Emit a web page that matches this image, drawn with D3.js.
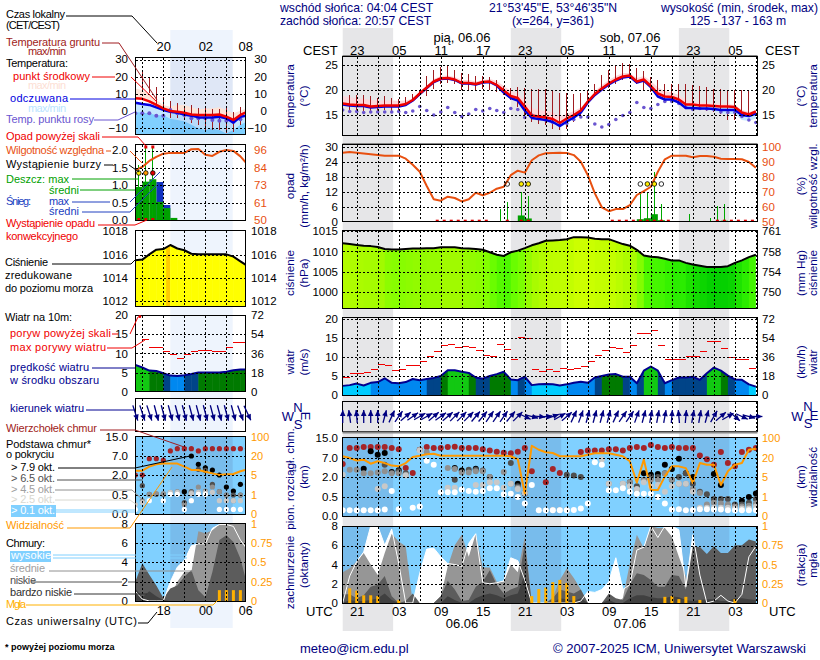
<!DOCTYPE html>
<html>
<head>
<meta charset="utf-8">
<script src="https://cdn.jsdelivr.net/npm/d3@7"></script>
<style>
body { margin: 0; background: #fff; }
text { font-family: "Liberation Sans", Arial, sans-serif; }
</style>
</head>
<body>
<svg id="svg1" width="820" height="660"></svg>
<script>
var _ = null;

// ---- long forecast, one value per hour from 19 UTC
var tempMid = [17.3,17.1,17,17,16.7,16.8,16.9,16.9,16.9,17.2, 18,19.3,20.5,21.7,22.3,22.4,22.1,21.4,21.4,21.2, 21.6,21.7,21,19.9,18.8,18.4,16.7,14.9,14.7,14.5, 14.2,13.4,14.3,15,15.9,17.7,19.2,20.3,21.3,22.1, 22.7,22.9,21.7,22.1,20.8,19.3,18.7,18.6,18.1,17.1, 17.1,16.9,16.9,16.8,16.7,16.7,16.6,15.5,15.1,15.7];
var tempFelt = [17.1,16.9,16.8,16.8,16.5,16.6,16.7,16.7,16.7,17, 17.9,19.2,20.4,21.6,22.2,22.3,22,21.3,21.3,21.1, 21.5,21.6,20.9,19.5,18.4,17.9,15.9,14.4,14.2,14, 13.6,12.8,13.7,14.5,15.5,17.5,19,20.1,21.1,21.9, 22.5,22.7,21.5,21.9,20.6,18.7,18.1,18.1,17.5,16.4, 16.4,16.3,16.3,16.2,16,16,16,15,14.8,15.3];
var tempMax = [18.8,18.6,18.3,18.3,18,17.9,17.9,17.9,17.8,17.9, 18.3,19.6,20.9,22.2,22.8,22.9,22.6,22,22,21.7, 22,22.2,21.8,20.8,19.8,19.3,17.9,16.4,16,15.8, 15.5,14.8,15.2,15.8,16.5,18,19.8,21,22,22.8, 23.4,23.4,22.4,22.8,21.8,20.5,19.8,19.5,19,18, 17.7,17.5,17.4,17.3,17.2,17.2,17,16,15.6,16];
var tempMin = [16.9,16.8,16.7,16.7,16.4,16.4,16.5,16.6,16.6,16.8, 17.7,19,20.3,21.4,22,22.1,21.8,21.1,21.1,20.9, 21.3,21.4,20.6,19.3,18.2,17.8,15.7,14.2,14,13.7, 13.3,12.5,13.3,14.2,15.2,17.3,19,20,21,21.9, 22.5,22.6,21.3,21.8,20.4,18.7,18,18,17.4,16.2, 16.2,16.1,16,15.8,15.3,15.2,15.2,14,13.8,14.3];
var groundMax = [_,19.1,19,19.1,18.9,18.5,18.9,18.5,18.3,18.7, 19.3,20,22.8,24,24.7,24.8,24.1,23.5,23.3,22.9, 22.8,22.7,22,20.8,20.5,20.7,20.5,20.3,20.3,20.3, 19.9,19.5,19.5,19.3,19.5,20,21.3,23,24,24.8, 25.5,25.2,24.5,23.8,22.7,22,21.3,21.2,21.2,21.2, 21,20.9,20.7,20.3,20.3,20.1,20,20,19.9,_];
var groundMin = [_,15.7,16,15.9,15.9,15.9,16,15.9,16,17, 17.7,18.8,18.9,20.3,21.3,21.5,21.3,20.1,20.1,20, 20.3,20.1,19.7,19,18,16.7,14.7,13.7,13.2,13, 12.3,12,12.3,13.7,15,18,19.5,20,20.5,21.3, 22,22.3,21.3,20,19.7,18.7,18.3,18,17.7,16.3, 16,16,15.9,15.7,15.3,14,14,15,14.7,_];
var dewPoint = [16,15.7,15.7,15.5,15.6,15.6,15.6,15.6,15.7,15.5, 15.8,16.7,15.9,15,15.6,16.5,15.5,14.7,15.2,16.1, 15.8,16.3,15.9,15.5,16.3,16.1,14.5,15,14.6,14, 13.5,13,13.3,14.1,14.6,14.6,13.2,12.6,13.1,14.1, 14.9,15.5,17.5,16.5,16.3,17.1,17.7,17.7,17.3,16.5, 16.1,16.3,16.2,16.1,15.6,15.5,15.5,14.7,14,13.5];

var humidity = [96,96.4,96,95.5,95,94.5,94,94,94,92, 88,83.3,73.8,65,64,66.7,65.8,63.5,65,69.3, 67.6,69.3,72,73.3,81,84,82.7,91,94.2,95.6, 95.8,96,95.8,94.4,90,81,68.9,59.6,57,58.4, 58.4,61,67.8,70.4,73.3,83.3,91.6,94,94,94, 93,93.8,93.8,93.3,92,91.8,91.8,91.6,89.8,86];
var rainMaxHours = [22,23,25,26,42,43,44,45,48,49,52,53,54];
var rainMaxValues = [4.9,7.7,11.7,10.4,11.3,12,20,6.9,0.4,3,1.3,6.4,7];
var rainMeanHours = [25,26,42,43,44,45,54];
var rainMeanValues = [2.5,1.3,1,1.4,3,0.6,0.4];
var snowMeanHours = [];
var snowMeanValues = [];
var convectiveHours = [13,14,15,16,17,18,19,20,23,25,26,38,39,40,41,42,43,44,45,46,53,54,55,56,57,58];
var stormHours = [23,25,26,42,43,44,45];
var stormLevels = [0,1,1,0,1,1,0];

var pressure = [1012,1011.8,1011.6,1011.4,1011.3,1011.1,1010.6,1010.5,1010.5,1010.6, 1010.7,1010.7,1010.8,1010.8,1011,1011,1011,1010.8,1010.7,1010.6, 1010.4,1009.8,1009.2,1008.9,1009.8,1010.2,1010.8,1011.5,1012,1012.6, 1012.7,1012.8,1013,1013.5,1013.5,1013.4,1013.1,1013,1013,1012.4, 1011.8,1011.4,1010.4,1009,1008.7,1008.6,1008.2,1007.8,1007.8,1007.2, 1006.8,1006.5,1006.2,1006.2,1006.2,1006.4,1007.2,1007.8,1008.6,1009.2];

var windSpeed = [2.4,2.6,3,2.5,3.2,3.4,4.4,3.2,3.1,3.4, 4.2,3.9,4.2,4.5,5,6.5,6.5,6.1,5.8,4.6, 4.3,5,5.5,6.1,4.1,3.9,4.8,2.6,2.8,2.9, 2.8,2.5,2.8,3.2,3.5,3.2,4.6,5,5.4,5.5, 4.8,4.8,3.1,6.4,7.5,6.4,3.1,3.9,4.6,4.6, 4.8,4,5.7,7.2,6.4,5.1,4.1,4,2.8,2.2];
var windGust = [4.6,5.7,5.7,6,6.8,8.1,7.7,6.5,6.8,7.7, 7.7,8.9,10.2,11.5,13,13.3,12.5,12.8,12.5,11.8, 10.4,10.2,13.3,12,9.4,15.1,14.9,6.8,6.2,6.8, 6.2,7,6.8,7,7.4,8.9,10.4,11.8,12.5,12.3, 11.2,13,16.2,16.2,17,13,9.4,9.4,9.4,10.2, 10.2,11.5,14.1,14.1,12.3,9.9,9.4,9.4,7,_];
var windDir = [0,-8,-5,0,0,0,15,25,35,50, 55,60,60,50,55,50,45,45,45,40, 40,35,35,35,40,45,115,105,95,85, 70,60,50,25,20,15,15,15,15,25, 35,35,20,15,10,10,10,5,-5,5, 10,10,15,30,50,60,130,115,105,90];

var baseTop = [5.4,11,11,11.4,11.4,11.4,11.4,11,10.5,4.4, 3.05,10.3,11.4,11,11,11.4,11.5,11,11,11, 10.5,10,9.5,9.1,8.9,9.5,11,3.5,_,1.6, 4.1,3.05,_,_,9.4,10,10,10,10.5,10.5, 10,11,11.4,11,12.2,11.4,11,11.4,11,11, 11,8,6.7,5.2,9.4,5.7,4.8,9.4,10.3,11];
var base79 = [_,_,_,4.2,9.7,8.3,9,3.3,3.8,_, _,_,_,_,_,_,4.4,3.7,_,4.2, _,_,_,_,_,1.5,0.76,_,_,_, _,_,_,_,_,_,_,_,_,_, _,_,_,3,2.6,2.8,5.2,4.1,6.8,3, 2,_,_,2.8,1.4,_,_,0.4,0.5,0.76];
var base65 = [_,_,_,_,_,_,5.2,_,3.5,3, _,_,_,_,_,_,1.8,_,3.9,3.9, 3.7,2,_,_,5.7,1.3,0.8,_,_,_, _,_,2.6,2.4,2,_,_,_,_,_, _,1.6,1.3,1.8,2,2,3,1.8,2,3, 1.5,0.9,0.7,0.45,0.45,0.45,0.3,0.3,0.35,0.45];
var base45 = [_,3.9,3.9,3,3,3.2,3.5,3,3,2.6, _,10.3,9.3,_,_,4.4,4.1,3.2,3.2,3.5, 3.5,2,_,3.3,1.5,1.2,0.8,_,_,_, _,_,_,_,_,_,_,_,1.5,_, 1.5,1.6,1,1.8,1.8,1.8,2.9,1.8,1.5,1.5, 1.1,0.8,0.3,0.35,0.33,0.3,0.25,0.25,0.27,0.33];
var base25 = [2.6,_,_,_,_,1.1,1.3,_,_,2.4, _,10,_,_,_,1.2,1.2,_,_,1.4, 1.4,1.6,1.6,1.2,1.5,1.1,0.8,_,_,_, 0.16,0.16,0.16,_,_,_,_,6.6,1.5,_, 1.5,1.3,1.1,1.6,1.3,1.4,0.9,1.3,1.5,1.5, 0.9,0.22,0.22,0.22,0.22,0.22,0.2,0.2,0.2,0.25];
var base01 = [0.15,0.15,0.15,0.15,0.15,0.15,0.17,0.95,0.18,_, 0.22,0.25,6.3,5.2,0.85,0.85,0.85,1.07,0.95,0.9, 0.95,1.15,1.15,0.7,0.75,0.5,0.33,1.4,0.15,0.15, 0.15,0.15,0.15,0.16,0.2,0.33,5.9,5.2,1,1, 1.15,0.9,0.75,0.75,0.75,0.5,0.33,0.17,0.18,0.15, 0.16,0.18,0.18,0.17,0.17,0.15,0.15,0.15,0.15,0.15];
var visibility = [26.7,20,18,18.7,15.5,17.4,16,14,13.4,16, 24,29,34.7,37,29,29,29,29,29,29, 29,29,29,29,27,19,1.7,69,53,43, 40,27,27,27,27,33,39,39,39,33, 27,17.4,3.9,18.7,2.4,2.4,5.5,13.4,13.4,12, 3.8,16,14.7,14.7,3.4,9.5,14.7,16,53,57];

var cloudHigh = [0,2.8,4.3,5.3,8,8,6,7.7,4.1,0, 0,3.1,5.6,5.7,4.8,4.1,4,3.8,6.2,7.2, 2.1,2,2.1,2.3,4.7,4.4,2.4,0,0,0, 0,0,0,0,0.2,1.2,1.1,1.4,2.2,4.7, 1.4,1.9,5.5,5.8,8,6.8,8,8,7.6,1.7, 7.1,2.9,0,0.2,0.8,0.2,0,0.9,4.8,5.9];
var cloudMid = [3.2,3.6,4.3,5.2,4,2.9,5.2,7.2,6.4,5.9, 0,0,0,0,0.7,3.8,6,7.1,4.8,7.2, 3.7,3.7,2.2,2.2,4,3.2,6.9,0,0,0, 0.6,2.4,3.6,2.6,1.4,0,0,0,0,0, 0.5,4.1,7.1,5.7,8,7.8,7.8,6.9,4.8,2.8, 0,5.9,5,5.9,5,5,5.5,5.5,6,6];
var cloudLow = [0.9,0.9,0.5,0.8,1.7,1.9,2.8,0.7,0,0.2, 1,0,0,0,0.7,2.3,1.4,0.2,0.3,1.7, 2.2,3.4,1.9,1,1.4,1.7,6.2,0,0,0, 0.5,1.4,1.2,1,1.4,0,0,0,1,0.5, 0.3,1.9,3.1,2.9,2.4,1.7,1.7,2.9,2.8,1.4, 5.9,5.8,5.1,5.9,5.2,5.2,6,6,6.6,6.4];
var cloudVeryLow = [0,0.3,0.2,0.2,0.3,0.5,1,0.3,0,0, 0,0,0,0,0,0.7,0.3,0,0,0.5, 0.8,1,0.8,0.5,0.8,1,3,0,0,0, 0,0.5,0.4,0.2,0.5,0,0,0,0.3,0, 0,0.5,0.8,0.8,0.6,0.5,0.5,0.7,0.6,0.3, 0.2,0.3,0.4,0.4,0.2,0.2,0.5,0.5,0.4,0.3];
var fogHours = [1,2,3,4,5,8,27,28,29,30,31,32,33,46,47,48,49,51,56];
var fogValues = [0.19,0.16,0.1,0.1,0.09,0.04,0.09,0.18,0.2,0.27,0.3,0.26,0.09,0.08,0.09,0.05,0.08,0.04,0.05];

// ---- short forecast on the left, from 14 UTC
var miniMid = [7.3,7,5.5,3.5,1.5,0,-0.4,-1,-2,-2.3,-2.3,-2.3,-2,-3.3,-5.2,-2.3,-0.4];
var miniFelt = [4.8,4,3.5,2.1,0.6,-0.4,-1,-2,-2.7,-3.7,-3.7,-3.8,-3.3,-4.2,-6.7,-3.3,-2.7];
var miniMax = [13,12,10,6.3,3.5,2.5,3.5,3.5,2.1,1,1.5,1.5,2.1,0.6,-1.3,0.2,1.5];
var miniMin = [-0.4,-1,-1.3,-2.5,-2.5,-4.5,-5.2,-6,-8,-10,-11,-10,-11,-13,-11,-8,-6];
var miniGroundMax = [_,23.7,19.2,14,8,5.8,4.5,2.5,3.5,1.5,2.1,1,1,1.5,-0.4,2.5,_];
var miniGroundMin = [_,12.1,10.2,3.5,1.5,-4.2,-4.2,-5.2,-7.1,-8,-11,-11,-11,-12.9,-12,-8,_];
var miniDew = [-1.3,-1.3,-1.3,-2.7,-2.7,0.6,-1.3,-2.3,-4.2,-4.2,-4.2,-5.2,-5.6,-5.6,-6.2,-4.8,-4.8];

var miniHumidity = [82.9,85,89,91.7,93.8,94.3,94.3,94.3,96.7,96.9,93,92.3,95,96.2,95.6,92,86.8];
var miniRainMaxHours = [0,1,2];
var miniRainMaxValues = [1.57,2.1,2.1];
var miniRainMeanHours = [0,1,2,3,4,5];
var miniRainMeanValues = [0.95,1.1,1.17,0.52,0.34,0.06];
var miniSnowMeanHours = [3,4];
var miniSnowMeanValues = [1.09,0.43];
var miniConvectiveHours = [0,1,2];
var miniStormHours = [0,1,2];
var miniStormColors = ["#ffee00","#ff9900","#e00000"];
var miniOverHours = [1,2];

var miniPressure = [1015.5,1015.55,1016,1016.4,1016.45,1016.8,1016.5,1016.35,1016.05,1016,1016,1016,1016,1016,1015.8,1015.4,1015];
var miniPressurePeak = [4.4,4.95];

var miniWind = [7,6.3,5.5,5.4,4.8,4.2,4.1,4.3,4.6,5,5,5,5,5.2,5.6,5.8,5.8];
var miniGust = [_,13.5,11.6,11.5,10.4,9.6,8.7,9.8,10.6,10.8,10.8,10.4,10.4,11.6,12.7,12.9,_];
var miniDir = [162,162,162,165,165,165,165,165,165,165,165,165,165,165,165,160,155];

var miniBaseTop = [2,2,6.3,6.3,5.9,9.1,10,10,10,9.1,10,10,10,10,10,10,10];
var miniBase79 = [_,_,_,_,_,_,_,0.75,7,4.8,3.9,3.3,2,1.1,0.8,1.3,1.9];
var miniBase65 = [_,1.2,0.55,0.55,0.55,_,_,0.3,0.75,3.5,3.2,1.3,0.75,0.5,0.5,0.5,_];
var miniBase45 = [_,0.35,0.55,0.6,0.6,0.7,0.75,0.25,0.7,1.1,0.8,1.1,0.75,0.5,0.35,0.5,1.3];
var miniBase25 = [0.25,0.3,_,_,_,0.7,0.7,_,0.6,0.7,0.7,0.7,0.35,0.35,0.35,0.35,_];
var miniBase01 = [0.12,_,0.35,_,0.35,0.55,0.55,0.12,0.35,0.55,0.55,_,0.12,0.12,0.12,0.12,_];
var miniVisibility = [8.4,8.4,11.6,13.4,14,14,14,11.6,9,9,7.6,6.3,5,5.5,5.8,8,9.5];

var miniCloudHigh = [1,0.2,0,0,0,2,3.5,4.2,5.7,5.9,5.9,7.5,7.9,7.9,7.7,6.3,5.3];
var miniCloudMid = [0,0,0,0,0,0.4,2,3,3,7.2,7,7.3,7.9,8,8,8,8];
var miniCloudLow = [2,3.9,2.7,1.6,0.3,1.3,1.6,2.5,3.2,1.1,0.4,3,6.3,6.8,6.1,4.4,1.6];
var miniCloudVeryLow = [1.3,0.4,1,0.5,0.1,0,0,0,0,0,0,0,0,0,0,0,0];
var miniFogHours = [12,13,14,15];
var miniFogValues = [0.14,0.14,0.14,0.14];

// ---- tick labels
var hoursCest = ["23","05","11","17","23","05","11","17","23","05"];
var hoursUtc = ["21","03","09","15","21","03","09","15","21","03"];
var nightBands = [[0,7.2],[24,31.2],[48,55.2]];
var miniDayBand = [5,13.9];

var navy = "#000080", orange = "#e85010", vis = "#ff9900";
var svg = d3.select("#svg1");

var x = d3.scaleLinear().domain([0,59.2]).range([342.7,757.3]);
var mx = d3.scaleLinear().domain([0,15.7]).range([135.3,245.3]);
var mainHours = d3.range(2,60,3), miniHours = d3.range(1,16,3);

// ---- panel positions
var mainP = {x0:342.5,x1:757.5};
var miniP = {x0:135.5,x1:245.5};

// background bands first
nightBands.forEach(function(b){
    svg.append("rect").attr("x",x(b[0])).attr("width",x(b[1])-x(b[0])).attr("y",28).attr("height",603).attr("fill","#e6e6e8");
});
svg.append("rect").attr("x",mx(miniDayBand[0])).attr("width",mx(miniDayBand[1])-mx(miniDayBand[0])).attr("y",30).attr("height",598).attr("fill","#eef4fd");

function makePanel(p,top,bottom,name){
    var id = "clip-"+name;
    svg.append("clipPath").attr("id",id).append("rect").attr("x",p.x0).attr("y",top).attr("width",p.x1-p.x0).attr("height",bottom-top);
    var g = svg.append("g").attr("clip-path","url(#"+id+")");
    return {g:g,p:p,top:top,bottom:bottom,name:name};
}

function finishPanel(pn,xs,hours,ys){
    var g = svg.append("g").attr("shape-rendering","crispEdges");
    hours.forEach(function(h){
        g.append("line").attr("x1",Math.round(xs(h))+.5).attr("x2",Math.round(xs(h))+.5).attr("y1",pn.top).attr("y2",pn.bottom)
            .attr("stroke","#000").attr("stroke-dasharray","2,2");
    });
    ys.forEach(function(v){
        g.append("line").attr("x1",pn.p.x0).attr("x2",pn.p.x1).attr("y1",Math.round(v)+.5).attr("y2",Math.round(v)+.5)
            .attr("stroke","#000").attr("stroke-dasharray","2,2");
    });
    g.append("rect").attr("x",pn.p.x0).attr("y",pn.top).attr("width",pn.p.x1-pn.p.x0).attr("height",pn.bottom-pn.top)
        .attr("fill","none").attr("stroke","#000");
}

function yAxis(gen,xpos,scale,vals,fmt,color,size){
    var a = svg.append("g").attr("transform","translate("+xpos+",0)")
        .call(gen(scale).tickValues(vals).tickFormat(fmt).tickSize(0).tickPadding(0));
    a.select(".domain").remove();
    a.selectAll("text").style("font-family","Liberation Sans").style("font-size",(size||11.5)+"px").attr("fill",color||"#000");
    return a;
}
function hourAxis(xs,ypos,vals,labels,size){
    var a = svg.append("g").attr("transform","translate(0,"+ypos+")")
        .call(d3.axisBottom(xs).tickValues(vals).tickFormat(function(d,i){return labels[i];}).tickSize(0).tickPadding(0));
    a.select(".domain").remove();
    a.selectAll("text").style("font-family","Liberation Sans").style("font-size",(size||13)+"px").attr("fill","#000").attr("dy",0).attr("y",0);
}

function areaBetween(xs,yScale,lo,hi,color,g){
    var idx = d3.range(lo.length);
    g.append("path").datum(idx).attr("fill",color)
        .attr("d",d3.area().x(function(i){return xs(i);}).y0(function(i){return yScale(lo[i]);}).y1(function(i){return yScale(hi[i]);}));
}
function drawLine(g,xs,yScale,vals,color,w){
    g.append("path").datum(vals).attr("fill","none").attr("stroke",color).attr("stroke-width",w)
        .attr("stroke-linejoin","round")
        .attr("d",d3.line().defined(function(d){return d!==null;}).x(function(d,i){return xs(i);}).y(function(d){return yScale(d);}));
}

function drawTemperature(pn,xs,y,d){
    var g = pn.g;
    if (d.sky) {
        // short panel fills down to the bottom
        var low = d.mid.map(function(){return -20;});
        areaBetween(xs,y,d.felt,low,"#c4e6ff",g);
        areaBetween(xs,y,d.sky,low,"#80d0ff",g);
        g.append("rect").attr("x",xs(d.band[0])).attr("width",xs(d.band[1])-xs(d.band[0]))
            .attr("y",pn.top).attr("height",pn.bottom-pn.top).attr("fill","#2040a0").attr("fill-opacity",0.07);
    } else {
        areaBetween(xs,y,d.mid,d.min,"#c4e6ff",g);
    }
    areaBetween(xs,y,d.mid,d.max,d.pink,g);
    d.groundMax.forEach(function(v,i){
        if (v===null) return;
        g.append("line").attr("x1",xs(i)).attr("x2",xs(i)).attr("y1",y(v)).attr("y2",y(d.groundMin[i])).attr("stroke","#a01c20").attr("stroke-width",1).attr("shape-rendering","crispEdges");
    });
    g.selectAll(null).data(d.dew).enter().append("circle").attr("cx",function(v,i){return xs(i);}).attr("cy",function(v){return y(v);})
        .attr("r",d.dewR).attr("fill","#6a55d0");
    drawLine(g,xs,y,d.felt,"#0000e0",2.5);
    drawLine(g,xs,y,d.mid,"#f00000",2.5);
}

function drawRain(pn,xs,y,yHum,d){
    var g = pn.g;
    d.snowHours.forEach(function(h,i){
        g.append("rect").attr("x",xs(h)).attr("width",xs(h+1)-xs(h)).attr("y",y(d.snow[i])).attr("height",y(0)-y(d.snow[i])).attr("fill","#1030c0");
    });
    d.meanHours.forEach(function(h,i){
        g.append("rect").attr("x",xs(h)).attr("width",xs(h+1)-xs(h)).attr("y",y(d.mean[i])).attr("height",y(0)-y(d.mean[i])).attr("fill","#00a000");
    });
    d.maxHours.forEach(function(h,i){
        g.append("line").attr("x1",xs(h+.5)).attr("x2",xs(h+.5)).attr("y1",y(d.max[i])).attr("y2",y(0)).attr("stroke","#00a800").attr("stroke-width",1).attr("shape-rendering","crispEdges");
    });
    d.conv.forEach(function(h){
        g.append("rect").attr("x",xs(h+.5)-1.5).attr("width",3).attr("y",y(0)-2).attr("height",2).attr("fill","#e00000");
    });
    drawLine(g,xs,yHum,d.hum,orange,2);
}

function drawPressure(pn,xs,y,vals,color,floor,peak){
    var clipId = "area-"+pn.name;
    var area = d3.area().x(function(d,i){return xs(i);}).y0(y(floor)).y1(function(d){return y(d);});
    svg.append("clipPath").attr("id",clipId).append("path").attr("d",area(vals));
    var g = pn.g.append("g").attr("clip-path","url(#"+clipId+")");
    vals.forEach(function(v,i){
        g.append("rect").attr("x",xs(i)).attr("width",xs(i+1)-xs(i)+.5).attr("y",pn.top).attr("height",pn.bottom-pn.top).attr("fill",color(v));
    });
    if (peak) {
        g.append("rect").attr("x",xs(peak[0])).attr("width",xs(peak[1])-xs(peak[0])).attr("y",pn.top).attr("height",pn.bottom-pn.top).attr("fill","#ffcc00");
    }
    drawLine(pn.g,xs,y,vals,"#000",2);
}

var windColor = d3.scaleThreshold().domain([3,4.2,5,5.9]).range(["#00ccff","#0088f0","#004488","#007a00","#12c812"]);
function drawWind(pn,xs,y,speed,gust){
    var clipId = "area-"+pn.name;
    var area = d3.area().x(function(d,i){return xs(i);}).y0(y(0)).y1(function(d){return y(d);});
    svg.append("clipPath").attr("id",clipId).append("path").attr("d",area(speed));
    var g = pn.g.append("g").attr("clip-path","url(#"+clipId+")");
    speed.forEach(function(v,i){
        var next = i+1<speed.length ? speed[i+1] : v;
        g.append("rect").attr("x",xs(i)).attr("width",xs(i+1)-xs(i)+.5).attr("y",pn.top).attr("height",pn.bottom-pn.top).attr("fill",windColor((v+next)/2));
    });
    drawLine(pn.g,xs,y,speed,"#000090",2);
    gust.forEach(function(v,i){
        if (v===null) return;
        pn.g.append("line").attr("x1",xs(i)).attr("x2",xs(i+1)).attr("y1",y(v)).attr("y2",y(v)).attr("stroke","#f00000").attr("stroke-width",1).attr("shape-rendering","crispEdges");
    });
}

function drawArrows(xs,ymid,dirs,len){
    var g = svg.append("g");
    dirs.forEach(function(a,i){
        var r = a*Math.PI/180, dx = Math.sin(r)*len/2, dy = -Math.cos(r)*len/2;
        var cx = xs(i), cy = ymid;
        g.append("line").attr("x1",cx-dx).attr("y1",cy-dy).attr("x2",cx+dx).attr("y2",cy+dy).attr("stroke",navy).attr("stroke-width",1.3);
        var ux = Math.sin(r), uy = -Math.cos(r);
        var tx = cx+dx, ty = cy+dy;
        g.append("path").attr("fill",navy)
            .attr("d","M"+tx+","+ty+"L"+(tx-ux*6-uy*2.8)+","+(ty-uy*6+ux*2.8)+"L"+(tx-ux*6+uy*2.8)+","+(ty-uy*6-ux*2.8)+"Z");
    });
}

function drawBase(pn,xs,y,yVis,series,visVals,r,bands){
    var g = pn.g;
    g.append("rect").attr("x",pn.p.x0).attr("y",pn.top).attr("width",pn.p.x1-pn.p.x0).attr("height",pn.bottom-pn.top).attr("fill","#80d0ff");
    bands.forEach(function(b){
        g.append("rect").attr("x",xs(b[0])).attr("width",xs(b[1])-xs(b[0])).attr("y",pn.top).attr("height",pn.bottom-pn.top).attr("fill","#78bcec");
    });
    series.forEach(function(s){
        s.vals.forEach(function(v,i){
            if (v===null) return;
            g.append("circle").attr("cx",xs(i)).attr("cy",y(v)).attr("r",r).attr("fill",s.color);
        });
    });
    drawLine(g,xs,yVis,visVals,"#ff9900",2);
}

function drawClouds(pn,xs,y,yFog,d,bands){
    var g = pn.g;
    g.append("rect").attr("x",pn.p.x0).attr("y",pn.top).attr("width",pn.p.x1-pn.p.x0).attr("height",pn.bottom-pn.top).attr("fill","#80d0ff");
    bands.forEach(function(b){
        g.append("rect").attr("x",xs(b[0])).attr("width",xs(b[1])-xs(b[0])).attr("y",pn.top).attr("height",pn.bottom-pn.top).attr("fill","#78bcec");
    });
    var zero = d.high.map(function(){return 0;});
    areaBetween(xs,y,zero,d.high,"#ffffff",g);
    areaBetween(xs,y,zero,d.mid,"#969696",g);
    areaBetween(xs,y,zero,d.low,"#5c5c5c",g);
    areaBetween(xs,y,zero,d.vlow,"#404040",g);
    drawLine(g,xs,y,d.high,"#ffffff",1);
    d.fogHours.forEach(function(h,i){
        g.append("rect").attr("x",xs(h)-1.5).attr("width",3).attr("y",yFog(d.fog[i])).attr("height",yFog(0)-yFog(d.fog[i])).attr("fill","#ffb000");
    });
}

// ==== main column
var yT = d3.scaleLinear().domain([15,25]).range([115,65]);
var p = makePanel(mainP,56.5,135.5,"t");
drawTemperature(p,x,yT,{mid:tempMid,felt:tempFelt,max:tempMax,min:tempMin,groundMax:groundMax,groundMin:groundMin,dew:dewPoint,dewR:1.8,pink:"#fcd8dc"});
finishPanel(p,x,mainHours,[65,89.5,115]);
yAxis(d3.axisLeft,338,yT,[15,20,25],d3.format("d"));
yAxis(d3.axisRight,762,yT,[15,20,25],d3.format("d"));

var yR = d3.scaleLinear().domain([0,30]).range([221.7,146.7]);
var yH = d3.scaleLinear().domain([50,100]).range([221.7,146.7]);
p = makePanel(mainP,144.5,221.5,"r");
drawRain(p,x,yR,yH,{snowHours:snowMeanHours,snow:snowMeanValues,meanHours:rainMeanHours,mean:rainMeanValues,maxHours:rainMaxHours,max:rainMaxValues,conv:convectiveHours,hum:humidity});
finishPanel(p,x,mainHours,[146.7,161.7,176.7,191.7,206.7]);
yAxis(d3.axisLeft,338,yR,[0,6,12,18,24,30],d3.format("d"));
yAxis(d3.axisRight,762,yH,[50,60,70,80,90,100],d3.format("d"),orange);
stormHours.forEach(function(h,i){
    svg.append("circle").attr("cx",x(h+.5)).attr("cy",184).attr("r",2.3).attr("fill",stormLevels[i]?"#ffee00":"none").attr("stroke","#000").attr("stroke-width",.8);
});

var yP = d3.scaleLinear().domain([1000,1015]).range([292.3,231]);
var pressColor = d3.scaleLinear().domain([1006,1008,1010,1011,1013.5]).range(["#00cc00","#30f000","#70ff00","#a0fa00","#ccff00"]);
p = makePanel(mainP,230.5,308.5,"p");
drawPressure(p,x,yP,pressure,pressColor,990);
finishPanel(p,x,mainHours,[231,251,271.5,292]);
yAxis(d3.axisLeft,338,yP,[1000,1005,1010,1015],d3.format("d"));
yAxis(d3.axisRight,762,yP,[1000,1005,1010,1015],function(d){return Math.round(d*0.75006);});

var yW = d3.scaleLinear().domain([0,20]).range([395,319]);
p = makePanel(mainP,317.5,395.5,"w");
drawWind(p,x,yW,windSpeed,windGust);
finishPanel(p,x,mainHours,[319,338,357,376]);
yAxis(d3.axisLeft,338,yW,[0,5,10,15,20],d3.format("d"));
yAxis(d3.axisRight,762,yW,[0,5,10,15,20],function(d){return d*3.6;});

p = makePanel(mainP,401.5,431.5,"d");
finishPanel(p,x,mainHours,[]);
drawArrows(x,416.5,windDir,13);
svg.append("line").attr("x1",mainP.x0).attr("x2",mainP.x1).attr("y1",432.5).attr("y2",432.5).attr("stroke","#888").attr("stroke-width",2);
svg.append("line").attr("x1",mainP.x0).attr("x2",mainP.x1).attr("y1",55.5).attr("y2",55.5).attr("stroke","#888");
svg.append("line").attr("x1",mainP.x0).attr("x2",mainP.x1).attr("y1",143.5).attr("y2",143.5).attr("stroke","#888");

var yB = d3.scaleLinear().domain([0,0.5,2,7,15]).range([516,497,477,458,438]);
var yV = d3.scaleLinear().domain([0,1,5,20,100]).range([516,497,477,458,438]);
var baseColors = ["#a52428","#000000","#505050","#909090","#c8c8c8","#ffffff"];
p = makePanel(mainP,437.5,516.5,"b");
drawBase(p,x,yB,yV,[baseTop,base79,base65,base45,base25,base01].map(function(v,i){return {vals:v,color:baseColors[i]};}),visibility,3,nightBands);
finishPanel(p,x,mainHours,[458,477,497]);
yAxis(d3.axisLeft,338,yB,[0,0.5,2,7,15],d3.format(".1f"));
yAxis(d3.axisRight,762,yV,[0,1,5,20,100],d3.format("d"),vis,11);

var yC = d3.scaleLinear().domain([0,8]).range([603,526]);
var yF = d3.scaleLinear().domain([0,1]).range([603,526]);
p = makePanel(mainP,526.5,603.5,"c");
drawClouds(p,x,yC,yF,{high:cloudHigh,mid:cloudMid,low:cloudLow,vlow:cloudVeryLow,fogHours:fogHours,fog:fogValues},nightBands);
finishPanel(p,x,mainHours,[545.5,564.5,584]);
yAxis(d3.axisLeft,338,yC,[0,2,4,6,8],d3.format("d"));
yAxis(d3.axisRight,762,yF,[0,0.25,0.5,0.75,1],d3.format(""),vis,11);

hourAxis(x,55,d3.range(2,60,6),hoursCest);
hourAxis(x,616,d3.range(2,60,6),hoursUtc);

// ==== left column
var myT = d3.scaleLinear().domain([-10,30]).range([128.3,59]);
p = makePanel(miniP,57.5,134.5,"mt");
drawTemperature(p,mx,myT,{mid:miniMid,felt:miniFelt,max:miniMax,sky:miniMin,band:miniDayBand,groundMax:miniGroundMax,groundMin:miniGroundMin,dew:miniDew,dewR:2,pink:"#fde4d8"});
finishPanel(p,mx,miniHours,[59.5,76.5,94,128]);
yAxis(d3.axisLeft,128,myT,[-10,0,10,20,30],d3.format("d"));
yAxis(d3.axisRight,254,myT,[-10,0,10,20,30],d3.format("d")).selectAll("text").attr("text-anchor","end").attr("x",13);

var myR = d3.scaleLinear().domain([0,2]).range([220,150.3]);
var myH = d3.scaleLinear().domain([50,96]).range([220,150.3]);
p = makePanel(miniP,144.5,220.5,"mr");
drawRain(p,mx,myR,myH,{snowHours:miniSnowMeanHours,snow:miniSnowMeanValues,meanHours:miniRainMeanHours,mean:miniRainMeanValues,maxHours:miniRainMaxHours,max:miniRainMaxValues,conv:miniConvectiveHours,hum:miniHumidity});
finishPanel(p,mx,miniHours,[150.5,168,185,202.5]);
yAxis(d3.axisLeft,128,myR,[0,0.5,1,1.5,2],d3.format(".1f"));
yAxis(d3.axisRight,254,myR,[0,0.5,1,1.5,2],function(d){return Math.floor(50+d*23);},orange);
miniStormHours.forEach(function(h,i){
    svg.append("circle").attr("cx",mx(h+.5)).attr("cy",173).attr("r",2.3).attr("fill",miniStormColors[i]).attr("stroke","#000").attr("stroke-width",.8);
});
miniOverHours.forEach(function(h){
    svg.append("rect").attr("x",mx(h+.5)-1.5).attr("y",145.5).attr("width",3).attr("height",3).attr("fill","#e00000");
});

var myP = d3.scaleLinear().domain([1012,1018]).range([301,231]);
p = makePanel(miniP,230.5,306.5,"mp");
drawPressure(p,mx,myP,miniPressure,function(){return "#ffff00";},1000,miniPressurePeak);
finishPanel(p,mx,miniHours,[254.5,277.5,301]);
yAxis(d3.axisLeft,128,myP,[1012,1014,1016,1018],d3.format("d"));
yAxis(d3.axisRight,251,myP,[1012,1014,1016,1018],d3.format("d"));

var myW = d3.scaleLinear().domain([0,20]).range([391.7,315]);
p = makePanel(miniP,315.5,391.5,"mw");
drawWind(p,mx,myW,miniWind,miniGust);
finishPanel(p,mx,miniHours,[334,353,372.5]);
yAxis(d3.axisLeft,128,myW,[0,5,10,15,20],d3.format("d"));
yAxis(d3.axisRight,251,myW,[0,5,10,15,20],function(d){return d*3.6;});
svg.append("circle").attr("cx",mx(0.5)+1).attr("cy",316.5).attr("r",1.5).attr("fill","#e00000");

p = makePanel(miniP,398.5,431.5,"md");
finishPanel(p,mx,miniHours,[]);
drawArrows(mx,413,miniDir,16);

var myB = d3.scaleLinear().domain([0,0.5,2,7,15]).range([514,495,475,456,436.5]);
var myV = d3.scaleLinear().domain([0,1,5,20,100]).range([514,495,475,456,436.5]);
p = makePanel(miniP,436.5,514.5,"mb");
drawBase(p,mx,myB,myV,[miniBaseTop,miniBase79,miniBase65,miniBase45,miniBase25,miniBase01].map(function(v,i){return {vals:v,color:baseColors[i]};}),miniVisibility,2.6,[miniDayBand]);
finishPanel(p,mx,miniHours,[456,475,495]);
yAxis(d3.axisLeft,128,myB,[0,0.5,2,7,15],d3.format(".1f"));
yAxis(d3.axisRight,251,myV,[0,1,5,20,100],d3.format("d"),vis,11);

var myC = d3.scaleLinear().domain([0,8]).range([601,523.5]);
var myF = d3.scaleLinear().domain([0,1]).range([601,523.5]);
p = makePanel(miniP,523.5,601.5,"mc");
drawClouds(p,mx,myC,myF,{high:miniCloudHigh,mid:miniCloudMid,low:miniCloudLow,vlow:miniCloudVeryLow,fogHours:miniFogHours,fog:miniFogValues},[miniDayBand]);
finishPanel(p,mx,miniHours,[542.5,562,581.5]);
yAxis(d3.axisLeft,128,myC,[0,2,4,6,8],d3.format("d"));
yAxis(d3.axisRight,251,myF,[0,0.25,0.5,0.75,1],d3.format(""),vis,11);

hourAxis(mx,51,[4,10,15.7],["20","02","08"]);
hourAxis(mx,615,[4,10,15.7],["18","00","06"],12.5);

// ==== labels and leader lines of the left legend
var legendBoxes = [[11,505,45,12],[10,551,41,11]];
legendBoxes.forEach(function(b){
    svg.append("rect").attr("x",b[0]).attr("y",b[1]).attr("width",b[2]).attr("height",b[3]).attr("fill","#80d0ff");
});

var leaders = [
    ["#000",[[66,16],[132,16],[157,43]]],
    ["#a01c20",[[102,43],[119,43],[157,100]]],
    ["#f00000",[[92,77],[115,77]]],
    ["#f00000",[[131,77],[157,102]]],
    ["#0000e0",[[70,99],[135,99]]],
    ["#6a55d0",[[94,120],[118,120],[135,112]]],
    ["#f00000",[[102,137],[138,137],[146,146]]],
    [orange,[[106,151],[111,151]]],
    [orange,[[130,151],[142,163]]],
    ["#000",[[104,165],[113,165]]],
    ["#000",[[129,165],[139,172]]],
    ["#00a000",[[72,179],[139,179]]],
    ["#00a000",[[80,190],[135,190]]],
    ["#2040c0",[[72,202],[110,202]]],
    ["#2040c0",[[130,202],[160,172]]],
    ["#2040c0",[[82,212],[130,212],[160,182]]],
    ["#f00000",[[98,225],[135,225],[147,220]]],
    ["#000",[[52,264],[131,264],[135,260]]],
    ["#f00000",[[112,334],[118,334]]],
    ["#f00000",[[130,334],[138,317]]],
    ["#f00000",[[107,348],[132,348],[145,340]]],
    ["#000090",[[92,368],[135,368]]],
    ["#000090",[[86,410],[135,410]]],
    ["#a01c20",[[100,430],[135,430],[187,448]]],
    ["#000",[[58,468],[135,468],[190,456]]],
    ["#505050",[[57,480],[143,480]]],
    ["#909090",[[55,490],[132,490],[143,500]]],
    ["#d8d8d0",[[55,500],[130,500],[137,505]]],
    ["#80d0ff",[[55,510],[135,510]]],
    ["#80d0ff",[[55,512],[135,512]]],
    ["#ff9900",[[67,528],[130,528],[172,467]]],
    ["#80d0ff",[[53,555],[187,555]]],
    ["#80d0ff",[[53,558],[187,558]]],
    ["#909090",[[49,571],[193,571]]],
    ["#505050",[[31,582],[122,582]]],
    ["#505050",[[128,582],[135,582]]],
    ["#303030",[[74,594],[147,594]]],
    ["#ffb000",[[26,605],[213,605],[218,600]]],
    ["#000",[[138,623],[148,623],[157,612]]]
];
var leaderLine = d3.line();
leaders.forEach(function(l){
    svg.append("path").attr("d",leaderLine(l[1])).attr("fill","none").attr("stroke",l[0]).attr("stroke-width",1);
});

var legendTexts = [
    [6,18,"Czas lokalny","#000",59],[6,29,"(CET/CEST)","#000",54],
    [6,46,"Temperatura gruntu","#a01c20",94],[28,55,"max/min","#a01c20",38],
    [6,67,"Temperatura:","#000",62],[13,80,"punkt środkowy","#f00000",77],
    [28,89,"max/min","#fde0d4",38],[10,102,"odczuwana","#0000e0",58],
    [28,112,"max/min","#b8e4ff",38],[6,123,"Temp. punktu rosy","#6a55d0",88],
    [6,140,"Opad powyżej skali","#f00000",94],[6,154,"Wilgotność względna",orange,98],
    [6,168,"Wystąpienie burzy","#000",95],[6,183,"Deszcz: max","#00a000",63],
    [49,194,"średni","#00a000",30],[6,205,"Śnieg:","#2040c0",25],
    [49,205,"max","#2040c0",20],[49,215,"średni","#2040c0",30],
    [6,227,"Wystąpienie opadu","#f00000",89],[6,240,"konwekcyjnego","#f00000",72],
    [5,266,"Ciśnienie","#000",43],[5,279,"zredukowane","#000",67],[5,292,"do poziomu morza","#000",88],
    [5,321,"Wiatr na 10m:","#000",67],
    [10,337,"poryw powyżej skali","#f00000",101],[10,351,"max porywy wiatru","#f00000",96],
    [10,371,"prędkość wiatru","#000090",79],[10,384,"w środku obszaru","#000090",89],
    [10,412,"kierunek wiatru","#000090",74],[6,432,"Wierzchołek chmur","#a01c20",91],
    [6,448,"Podstawa chmur*","#000",85],[6,458,"o pokryciu","#000",48],
    [11,471,"> 7.9 okt.","#000",44],[11,482,"> 6.5 okt.","#505050",44],
    [11,493,"> 4.5 okt.","#a0a0a0",44],[11,503,"> 2.5 okt.","#d8d8d0",44],
    [11,514,"> 0.1 okt.","#fff",44],[6,529,"Widzialność","#ff9900",58],
    [6,547,"Chmury:","#000",39],[11,559,"wysokie","#fff",40],
    [10,572,"średnie","#a0a0a0",35],[10,584,"niskie","#505050",26],
    [10,596,"bardzo niskie","#303030",62],[6,608,"Mgła","#ffb000",20],
    [6,625,"Czas uniwersalny (UTC)","#000",131]
];
svg.selectAll(null).data(legendTexts).enter().append("text")
    .attr("x",function(d){return d[0];}).attr("y",function(d){return d[1];})
    .attr("fill",function(d){return d[3];}).attr("font-size",11).attr("textLength",function(d){return d[4];}).text(function(d){return d[2];});
svg.append("text").attr("x",5).attr("y",650).attr("font-size",9).attr("font-weight","bold").text("* powyżej poziomu morza");

// ==== header and footer
function head(x0,y0,s,anchor,size,color){
    return svg.append("text").attr("x",x0).attr("y",y0).attr("text-anchor",anchor||"start").attr("font-size",size||12.2).attr("fill",color||navy).text(s);
}
head(280,12,"wschód słońca: 04:04 CEST");
head(280,25,"zachód słońca: 20:57 CEST");
head(553,12,"21°53'45\"E, 53°46'35\"N","middle");
head(553,25,"(x=264, y=361)","middle");
head(818,12,"wysokość (min, środek, max)","end");
head(738,25,"125 - 137 - 163 m","middle");
head(462,42,"pią, 06.06","middle",13,"#000");
head(630,42,"sob, 07.06","middle",13,"#000");
head(303,55,"CEST","start",13,"#000");
head(765,55,"CEST","start",13,"#000");
head(306,616,"UTC","start",13,"#000");
head(769,616,"UTC","start",13,"#000");
head(462,628,"06.06","middle",13,"#000");
head(630,628,"07.06","middle",13,"#000");
head(300,653,"meteo@icm.edu.pl","start",13);
head(806,653,"© 2007-2025 ICM, Uniwersytet Warszawski","end",13.15);

function vert(cx,cy,s){
    svg.append("text").attr("transform","translate("+cx+","+cy+") rotate(-90)").attr("text-anchor","middle")
        .attr("font-size",11.8).attr("fill",navy).text(s);
}
var sideLabels = [
    [294,96,"temperatura"],[308,96,"(°C)"],[294,186,"opad"],[308,186,"(mm/h, kg/m²/h)"],
    [294,273,"ciśnienie"],[308,273,"(hPa)"],[294,362,"wiatr"],[308,362,"(m/s)"],
    [294,479,"pion. rozciągł. chm."],[308,477,"(km)"],[294,572.5,"zachmurzenie"],[308,565,"(oktanty)"],
    [805,96,"(°C)"],[817,96,"temperatura"],[805,186,"(%)"],[817,186,"wilgotność wzgl."],
    [805,273,"(mm Hg)"],[817,273,"ciśnienie"],[805,362,"(km/h)"],[817,362,"wiatr"],
    [805,477,"(km)"],[817,477,"widzialność"],[805,565,"(frakcja)"],[817,565,"mgła"]
];
sideLabels.forEach(function(l){ vert(l[0],l[1],l[2]); });

// compass marks
var compass = [[288,421,"W",0],[298,412,"N",0],[298,429,"S",0],[301,416,"E",90],
               [797.5,421,"W",0],[808,411,"N",0],[808,428,"S",0],[814,420,"E",0]];
compass.forEach(function(c){
    svg.append("text").attr("transform","translate("+c[0]+","+c[1]+") rotate("+c[3]+")").attr("text-anchor","middle")
        .attr("font-size",13).attr("fill",navy).text(c[2]);
});
</script>
</body>
</html>
